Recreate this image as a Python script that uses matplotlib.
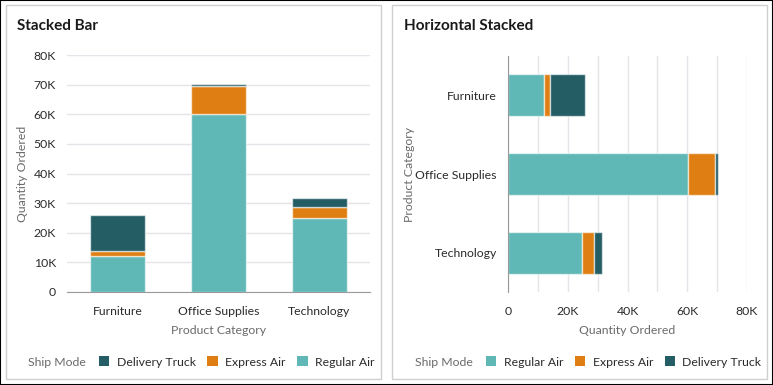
import matplotlib.pyplot as plt
from matplotlib.patches import Patch, Rectangle
from matplotlib.ticker import FuncFormatter, MultipleLocator

plt.rcParams["font.family"] = ["Lato", "DejaVu Sans"]

categories = ["Furniture", "Office Supplies", "Technology"]
regular_air = [12100, 60200, 24900]
express_air = [1900, 9200, 3900]
delivery_truck = [11900, 900, 2800]

COLORS = {"Regular Air": "#5fb8b5", "Express Air": "#df7f13", "Delivery Truck": "#245d64"}
TEXT = "#2b2b2b"
MUTED = "#6a6a6a"
GRID = "#e4e4ea"

W, H = 773, 385
FS = 8.8


def px(x, y, w, h):
    # pixel box (top-left origin) -> figure fraction rect
    return [x / W, 1 - (y + h) / H, w / W, h / H]


def kfmt(v, _):
    return "0" if v == 0 else f"{int(v / 1000)}K"


fig = plt.figure(figsize=(W / 100, H / 100), dpi=100)
fig.patches.append(Rectangle((0, 0), 1, 1, transform=fig.transFigure, fill=False,
                             edgecolor="black", linewidth=1.5))
for x0 in (6, 392):
    r = px(x0, 5, 375, 374)
    fig.patches.append(Rectangle((r[0], r[1]), r[2], r[3], transform=fig.transFigure,
                                 fill=False, edgecolor="#cfcfcf", linewidth=1))

series = [("Regular Air", regular_air), ("Express Air", express_air), ("Delivery Truck", delivery_truck)]

# left: vertical stacked
ax1 = fig.add_axes(px(67, 55, 303, 237))
bottom = [0, 0, 0]
for name, vals in series:
    ax1.bar(range(3), vals, 0.54, bottom=bottom, color=COLORS[name],
            edgecolor=(1, 1, 1, 0.6), linewidth=1, zorder=3)
    bottom = [b + v for b, v in zip(bottom, vals)]
ax1.set_xlim(-0.5, 2.5)
ax1.set_ylim(0, 80000)
ax1.yaxis.set_major_locator(MultipleLocator(10000))
ax1.yaxis.set_major_formatter(FuncFormatter(kfmt))
ax1.set_xticks(range(3), categories)
ax1.grid(axis="y", color=GRID, linewidth=1, zorder=0)
for s in ("top", "right", "left"):
    ax1.spines[s].set_visible(False)
ax1.spines["bottom"].set_color("#9a9a9a")
ax1.spines["bottom"].set_zorder(4)
ax1.tick_params(length=0, labelsize=FS, colors=TEXT)
ax1.tick_params(axis="x", pad=10)
ax1.tick_params(axis="y", pad=8)
ax1.set_xlabel("Product Category", fontsize=FS, color=MUTED, labelpad=6)
ax1.set_ylabel("Quantity Ordered", fontsize=FS, color=MUTED, labelpad=4)
fig.text(17 / W, 1 - 26 / H, "Stacked Bar", fontsize=11, fontweight="bold", color="#1a1a1a", va="center")

# right: horizontal stacked
ax2 = fig.add_axes(px(508, 56, 239, 236))
left = [0, 0, 0]
for name, vals in series:
    ax2.barh(range(3), vals, 0.53, left=left, color=COLORS[name],
             edgecolor=(1, 1, 1, 0.6), linewidth=1, zorder=3)
    left = [l + v for l, v in zip(left, vals)]
ax2.set_ylim(2.5, -0.5)
ax2.set_xlim(0, 80000)
ax2.set_xticks(range(0, 80001, 20000))
ax2.xaxis.set_minor_locator(MultipleLocator(10000))
ax2.xaxis.set_major_formatter(FuncFormatter(kfmt))
ax2.set_yticks(range(3), categories)
ax2.grid(axis="x", which="both", color=GRID, linewidth=1, zorder=0)
for s in ("top", "right", "bottom"):
    ax2.spines[s].set_visible(False)
ax2.spines["left"].set_color("#9a9a9a")
ax2.spines["left"].set_zorder(4)
ax2.tick_params(which="both", length=0, labelsize=FS, colors=TEXT)
ax2.tick_params(axis="x", pad=10)
ax2.tick_params(axis="y", pad=8)
ax2.set_xlabel("Quantity Ordered", fontsize=FS, color=MUTED, labelpad=6)
ax2.set_ylabel("Product Category", fontsize=FS, color=MUTED, labelpad=0)
fig.text(404 / W, 1 - 26 / H, "Horizontal Stacked", fontsize=11, fontweight="bold", color="#1a1a1a", va="center")

# legends
legend_y = 1 - 362 / H
for x_title, x_leg, order in ((28, 99, ["Delivery Truck", "Express Air", "Regular Air"]),
                               (415, 486, ["Regular Air", "Express Air", "Delivery Truck"])):
    fig.text(x_title / W, legend_y, "Ship Mode", fontsize=FS, color=MUTED, va="center")
    handles = [Patch(facecolor=COLORS[n], label=n) for n in order]
    fig.legend(handles=handles, loc="center left", bbox_to_anchor=(x_leg / W, legend_y),
               ncol=3, frameon=False, fontsize=FS, handlelength=0.85, handleheight=0.85,
               handletextpad=0.6, columnspacing=0.95, borderaxespad=0, borderpad=0,
               labelcolor=TEXT)

fig.savefig("out.png", dpi=100)
